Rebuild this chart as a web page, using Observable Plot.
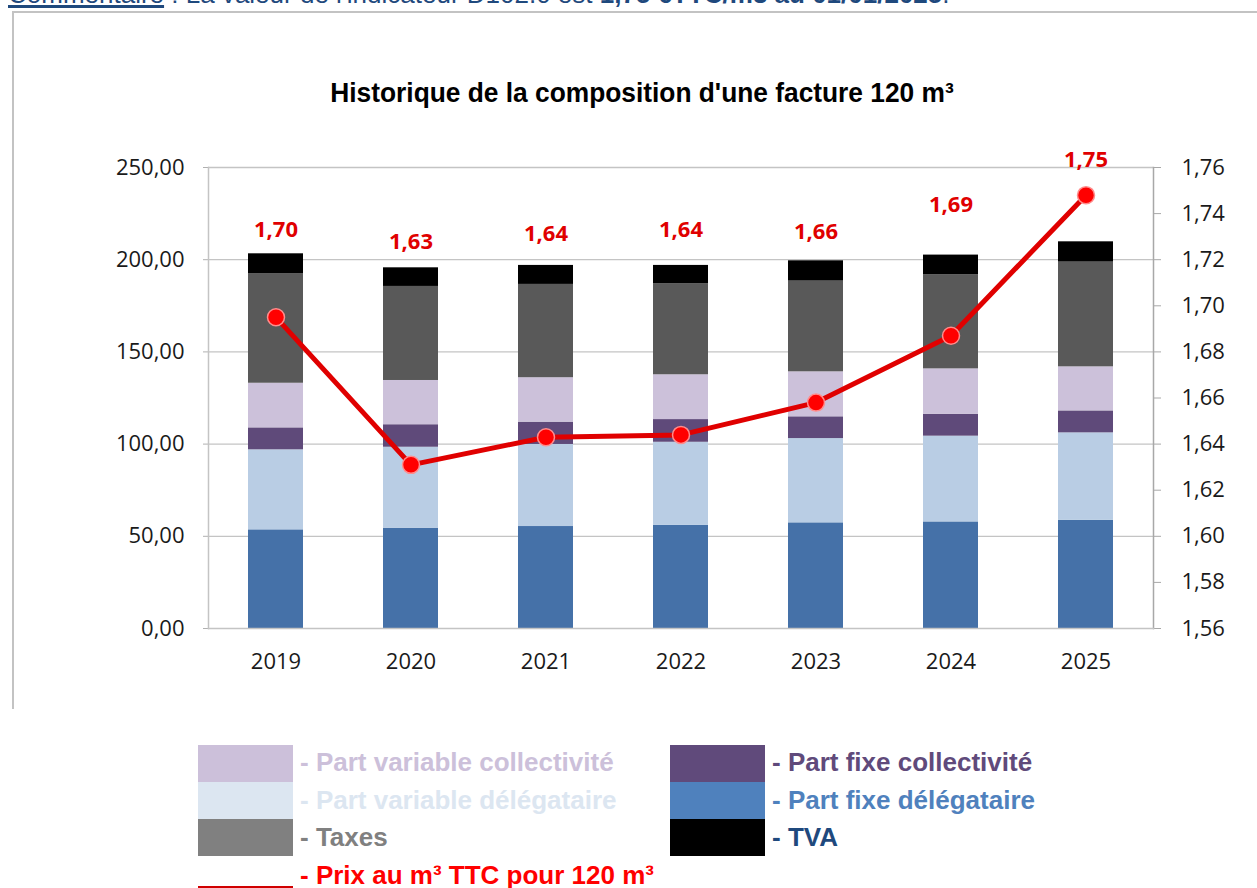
<!DOCTYPE html>
<html>
<head>
<meta charset="utf-8">
<script src="https://cdn.jsdelivr.net/npm/d3@7"></script>
<script src="https://cdn.jsdelivr.net/npm/@observablehq/plot@0.6"></script>
<style>
  html, body { margin: 0; padding: 0; background: #fff; }
  #page { position: relative; width: 1257px; height: 888px; overflow: hidden; background: #fff; }
  #comment { position: absolute; left: 8px; top: -21px; font: 26px "Liberation Sans", Arial, sans-serif; line-height: 30px; color: #1f497d; white-space: nowrap; }
  #comment u { text-decoration-thickness: 3px; }
  #frame { position: absolute; left: 12px; top: 11px; width: 1400px; height: 696px; border-left: 2px solid #c3c3c3; border-top: 2px solid #c3c3c3; }
  #title { position: absolute; left: 0; width: 1284px; top: 77px; text-align: center; font: bold 28px "Liberation Sans", Arial, sans-serif; color: #000; transform: scaleX(0.94); transform-origin: 642px 0; }
  #chart { position: absolute; left: 0; top: 130px; }
  .lg { position: absolute; font: bold 26px "Liberation Sans", Arial, sans-serif; white-space: nowrap; line-height: 37px; }
  .sw { position: absolute; }
</style>
</head>
<body>
<div id="page">
  <div id="comment"><u>Commentaire</u> : La valeur de l'indicateur D102.0 est <b>1,75 €TTC/m3 au 01/01/2025</b>.</div>
  <div id="frame"></div>
  <div id="title">Historique de la composition d'une facture 120 m³</div>
  <div id="chart"></div>
  <div id="legend"></div>
</div>
<script>
// ---- data ----
const years = ["2019", "2020", "2021", "2022", "2023", "2024", "2025"];
const series = ["Part fixe délégataire", "Part variable délégataire", "Part fixe collectivité", "Part variable collectivité", "Taxes", "TVA"];
const partFixeDelegataire     = [53.5, 54.4, 55.3, 55.9, 57.3, 57.8, 58.7];
const partVariableDelegataire = [43.4, 43.9, 44.5, 45.1, 45.7, 46.5, 47.4];
const partFixeCollectivite    = [11.9, 12.2, 12.1, 12.3, 11.8, 11.9, 11.9];
const partVariableCollectivite= [24.2, 24.0, 24.1, 24.3, 24.4, 24.6, 23.9];
const taxes                   = [59.3, 51.0, 50.6, 49.3, 49.2, 51.0, 56.8];
const tva                     = [10.9, 10.1, 10.3, 10.0, 11.0, 10.7, 11.0];
const prixM3                  = [1.695, 1.631, 1.643, 1.644, 1.658, 1.687, 1.748];
const prixLabels              = ["1,70", "1,63", "1,64", "1,64", "1,66", "1,69", "1,75"];
const leftTicks  = [0, 50, 100, 150, 200, 250];
const rightTicks = [1.56, 1.58, 1.60, 1.62, 1.64, 1.66, 1.68, 1.70, 1.72, 1.74, 1.76];

// ---- layout / style ----
const barColors = ["#4571a8", "#b9cde4", "#5f4a7a", "#ccc1da", "#595959", "#000000"];
const rightMin = 1.56, rightMax = 1.76, leftMax = 250;
const toLeft = p => (p - rightMin) / (rightMax - rightMin) * leftMax;
const labelLift = [13, 14, 17, 19.5, 15.5, 27, 44.5]; // label placement above bar tops (left-axis units)

const valuesBySeries = [partFixeDelegataire, partVariableDelegataire, partFixeCollectivite, partVariableCollectivite, taxes, tva];
const stackData = [];
years.forEach((y, i) => series.forEach((s, j) => stackData.push({year: y, series: s, value: valuesBySeries[j][i]})));
const totals = years.map((y, i) => valuesBySeries.reduce((a, arr) => a + arr[i], 0));
const priceData = years.map((y, i) => ({year: y, price: prixM3[i], label: prixLabels[i], top: totals[i] + labelLift[i]}));

const fmt = v => v.toFixed(2).replace(".", ",");

const chart = Plot.plot({
  width: 1257,
  height: 570,
  marginLeft: 208,
  marginRight: 104,
  marginTop: 37,
  marginBottom: 72,
  style: {fontFamily: "'Open Sans', sans-serif", fontSize: "22px", color: "#222", background: "transparent"},
  x: {type: "band", domain: years, paddingInner: 0.59, paddingOuter: 0.295, label: null},
  y: {domain: [0, leftMax], label: null},
  color: {domain: series, range: barColors},
  marks: [
    Plot.ruleY(leftTicks.slice(1), {stroke: "#c4c4c4", strokeWidth: 1.3}),
    Plot.barY(stackData, {x: "year", y: "value", fill: "series", order: series}),
    Plot.axisY(leftTicks, {anchor: "left", tickFormat: fmt, tickSize: 5, tickPadding: 19, stroke: "#b0b0b0", fill: "#1a1a1a", label: null}),
    Plot.axisY(rightTicks.map(toLeft), {anchor: "right", tickFormat: v => fmt(rightMin + v / leftMax * (rightMax - rightMin)), tickSize: 7, tickPadding: 21, stroke: "#a8a8a8", fill: "#1a1a1a", label: null}),
    Plot.axisX({anchor: "bottom", tickSize: 0, tickPadding: 25, fill: "#1a1a1a", label: null}),
    Plot.frame({anchor: "left", stroke: "#c4c4c4", strokeWidth: 1.5}),
    Plot.frame({anchor: "right", stroke: "#a8a8a8", strokeWidth: 1.5}),
    Plot.frame({anchor: "bottom", stroke: "#c4c4c4", strokeWidth: 1.5}),
    Plot.line(priceData, {x: "year", y: d => toLeft(d.price), stroke: "#e00000", strokeWidth: 5}),
    Plot.dot(priceData, {x: "year", y: d => toLeft(d.price), r: 8.5, fill: "#ff0000", stroke: "#ff8c8c", strokeWidth: 1.5}),
    Plot.text(priceData, {x: "year", y: "top", text: "label", fill: "#e00000", fontWeight: "bold", fontSize: 22})
  ]
});
document.getElementById("chart").appendChild(chart);

// ---- legend ----
const legendItems = [
  {label: "- Part variable collectivité", swatch: "#ccc0da", text: "#ccc0da", col: 0, row: 0},
  {label: "- Part variable délégataire", swatch: "#dce6f1", text: "#dce6f1", col: 0, row: 1},
  {label: "- Taxes", swatch: "#808080", text: "#808080", col: 0, row: 2},
  {label: "- Prix au m³ TTC pour 120 m³", swatch: null, text: "#ff0000", col: 0, row: 3},
  {label: "- Part fixe collectivité", swatch: "#604a7b", text: "#604a7b", col: 1, row: 0},
  {label: "- Part fixe délégataire", swatch: "#4f81bd", text: "#4f81bd", col: 1, row: 1},
  {label: "- TVA", swatch: "#000000", text: "#1f497d", col: 1, row: 2}
];
const lg = document.getElementById("legend");
const colX = [198, 670], swW = 95, rowY = 745, rowH = 37, textRowH = 37.5;
legendItems.forEach(it => {
  const s = document.createElement("div");
  s.className = "sw";
  if (it.swatch) {
    Object.assign(s.style, {left: colX[it.col] + "px", top: (rowY + it.row * rowH) + "px", width: swW + "px", height: rowH + "px", background: it.swatch});
  } else {
    Object.assign(s.style, {left: colX[it.col] + "px", top: (rowY + it.row * rowH + 30) + "px", width: swW + "px", height: "3px", background: "#d00000"});
  }
  lg.appendChild(s);
  const t = document.createElement("div");
  t.className = "lg";
  t.textContent = it.label;
  Object.assign(t.style, {left: (colX[it.col] + swW + 7) + "px", top: (rowY - 1 + it.row * textRowH) + "px", color: it.text});
  lg.appendChild(t);
});
</script>
</body>
</html>
